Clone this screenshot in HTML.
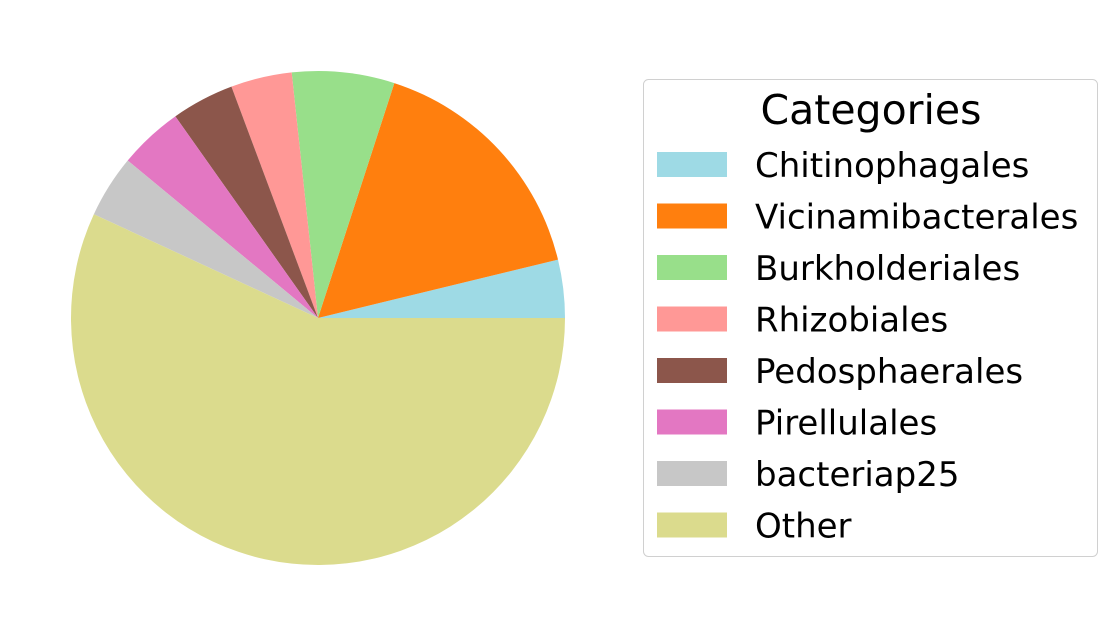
<!DOCTYPE html>
<html><head><meta charset="utf-8">
<style>
body{margin:0;background:#fff;}
svg{display:block;font-family:"DejaVu Sans","Liberation Sans",sans-serif;}
</style></head>
<body>
<svg id="chart" width="1108" height="636" viewBox="0 0 1108 636" xmlns="http://www.w3.org/2000/svg">
<g id="slices"></g>
<g id="legend">
<rect x="643.5" y="79.5" width="454" height="477" rx="5" fill="#fff" stroke="#d0d0d0" stroke-width="1"/>
<text x="871" y="124" font-size="41" text-anchor="middle" fill="#000">Categories</text>
</g>
</svg>
<script>
const categories = ["Chitinophagales","Vicinamibacterales","Burkholderiales","Rhizobiales","Pedosphaerales","Pirellulales","bacteriap25","Other"];
const values = [3.8,16.2,6.7,4.0,4.1,4.2,4.1,56.9];
const colors = ["#9edae5","#ff7f0e","#98df8a","#ff9896","#8c564b","#e377c2","#c7c7c7","#dbdb8d"];
const NS="http://www.w3.org/2000/svg";
const cx=318, cy=318, r=247;
const total=values.reduce((a,b)=>a+b,0);
const sg=document.getElementById('slices');
let a0=0;
values.forEach((v,i)=>{
  const a1=a0+v/total*2*Math.PI;
  const x0=cx+r*Math.cos(a0), y0=cy-r*Math.sin(a0);
  const x1=cx+r*Math.cos(a1), y1=cy-r*Math.sin(a1);
  const large=(a1-a0)>Math.PI?1:0;
  const p=document.createElementNS(NS,'path');
  p.setAttribute('d',`M${cx},${cy} L${x0},${y0} A${r},${r} 0 ${large} 0 ${x1},${y1} Z`);
  p.setAttribute('fill',colors[i]);
  
  
  sg.appendChild(p);
  a0=a1;
});
const lg=document.getElementById('legend');
categories.forEach((c,i)=>{
  const y=165+i*51.5;
  const g=document.createElementNS(NS,'g');
  
  
  const rc=document.createElementNS(NS,'rect');
  rc.setAttribute('x',657);rc.setAttribute('y',y-13);rc.setAttribute('width',70);rc.setAttribute('height',25);
  rc.setAttribute('fill',colors[i]);
  const t=document.createElementNS(NS,'text');
  t.setAttribute('x',755);t.setAttribute('y',y+12);t.setAttribute('font-size',34);t.setAttribute('fill','#000');
  t.textContent=c;
  g.appendChild(rc);g.appendChild(t);lg.appendChild(g);
});
</script>
</body></html>
